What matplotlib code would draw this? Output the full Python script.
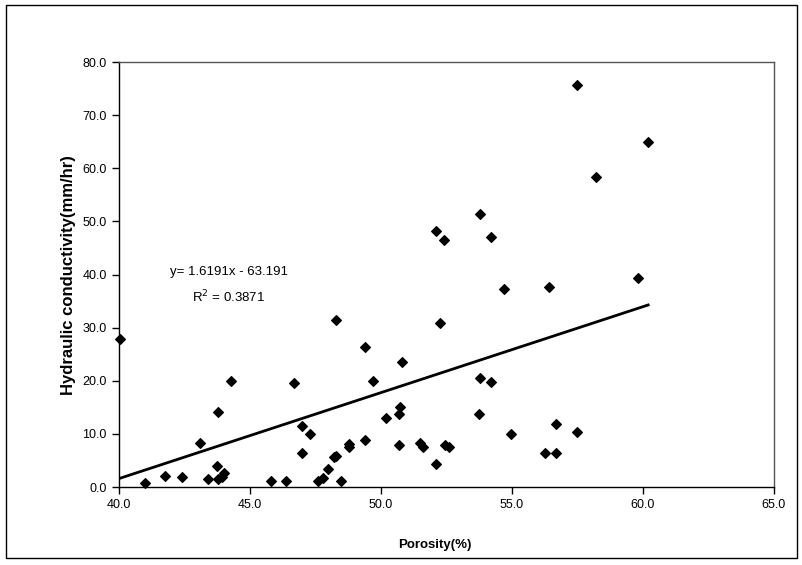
import matplotlib
matplotlib.use("Agg")
from matplotlib import pyplot as plt
from matplotlib.patches import Rectangle
import numpy as np

# porosity (%) and hydraulic conductivity (mm/hr)
porosity = [40.04, 41.0, 41.75, 42.4, 43.1, 43.4, 43.75, 43.8, 43.8, 43.95,
            44.0, 44.3, 45.8, 46.4, 46.7, 47.0, 47.0, 47.3, 47.6, 47.8,
            48.0, 48.2, 48.3, 48.3, 48.5, 48.8, 48.8, 49.4, 49.4, 49.7,
            50.2, 50.7, 50.7, 50.75, 50.8, 51.5, 51.6, 52.1, 52.1, 52.25,
            52.4, 52.45, 52.6, 53.75, 53.8, 53.8, 54.2, 54.2, 54.7, 54.95,
            56.25, 56.4, 56.7, 56.7, 57.5, 57.5, 58.2, 59.8, 60.2]
conductivity = [27.8, 0.7, 2.0, 1.8, 8.2, 1.5, 3.9, 14.1, 1.5, 1.9,
                2.7, 19.9, 1.2, 1.2, 19.5, 11.5, 6.5, 9.9, 1.2, 1.7,
                3.4, 5.7, 5.9, 31.5, 1.2, 8.1, 7.5, 8.8, 26.4, 20.0,
                13.0, 13.8, 7.9, 15.0, 23.6, 8.3, 7.6, 4.3, 48.3, 30.9,
                46.5, 7.9, 7.5, 13.8, 51.4, 20.5, 19.7, 47.1, 37.3, 9.9,
                6.5, 37.6, 11.9, 6.5, 75.7, 10.4, 58.3, 39.3, 65.0]

slope = 1.6191
intercept = -63.191
r_squared = 0.3871

x_ticks = [40.0, 45.0, 50.0, 55.0, 60.0, 65.0]
y_ticks = [0.0, 10.0, 20.0, 30.0, 40.0, 50.0, 60.0, 70.0, 80.0]

plt.rcParams['font.family'] = ['Liberation Sans', 'DejaVu Sans']

fig = plt.figure(figsize=(8.02, 5.65), dpi=100)
ax = fig.add_axes([0.148, 0.138, 0.817, 0.752])

ax.scatter(porosity, conductivity, marker='D', s=24, color='black', zorder=3, clip_on=False)

x_line = np.array([min(porosity), max(porosity)])
ax.plot(x_line, slope * x_line + intercept, color='black', lw=2, zorder=2)

ax.text(44.2, 40.5, "y= 1.6191x - 63.191", ha='center', va='center', fontsize=9.5)
ax.text(44.2, 35.8, "R$^2$ = %.4f" % r_squared, ha='center', va='center', fontsize=9.5)

ax.set_xlim(40, 65)
ax.set_ylim(0, 80)
ax.set_xticks(x_ticks)
ax.set_yticks(y_ticks)
ax.set_xticklabels(["%.1f" % t for t in x_ticks], fontsize=9)
ax.set_yticklabels(["%.1f" % t for t in y_ticks], fontsize=9)
ax.tick_params(direction='out', length=5, width=1)

fig.text(435 / 802, 1 - 545 / 565, "Porosity(%)", ha='center', va='center',
         fontsize=9.5, fontweight='bold')
ax.set_ylabel("Hydraulic conductivity(mm/hr)", fontsize=12, fontweight='bold', labelpad=5)

for side in ['left', 'bottom']:
    ax.spines[side].set_color('black')
    ax.spines[side].set_linewidth(1)
for side in ['top', 'right']:
    ax.spines[side].set_color('#555555')
    ax.spines[side].set_linewidth(1)

# outer chart border
fig.patches.append(Rectangle((0.008, 0.012), 0.986, 0.98, transform=fig.transFigure,
                             fill=False, edgecolor='black', lw=1))

fig.savefig("out.png", dpi=100)
